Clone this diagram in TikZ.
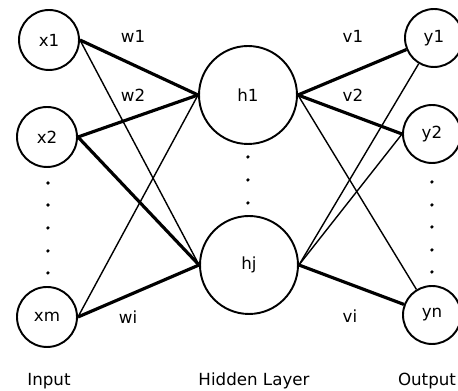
\documentclass[tikz,border=0pt]{standalone}
\usepackage{fontspec}
\setmainfont{DejaVu Sans}
\usepackage{tikz}

\begin{document}
\begin{tikzpicture}[x=0.02cm,y=-0.02cm,
    font=\fontsize{9.5}{11}\selectfont,
    inp/.style={draw,circle,line width=1.1pt,minimum size=1.2cm,inner sep=0pt},
    hid/.style={draw,circle,line width=1.1pt,minimum size=1.96cm,inner sep=0pt},
    outp/.style={draw,circle,line width=1.1pt,minimum size=1.16cm,inner sep=0pt},
    dot/.style={circle,fill,inner sep=0pt,minimum size=2pt},
    thick line/.style={line width=1.8pt},
    thin line/.style={line width=0.8pt}]
        \useasboundingbox (0,0) rectangle (458,391);
        \clip (0,0) rectangle (458,391);

        \node[inp] (X1) at (49,40) {x1};
        \node[inp] (X2) at (47,137) {x2};
        \node[inp] (XM) at (47,317) {xm};
        \node[hid] (H1) at (248,95) {h1};
        \node[hid] (HJ) at (249,265) {hj};
        \node[outp] (Y1) at (434,38) {y1};
        \node[outp] (Y2) at (432,134) {y2};
        \node[outp] (YN) at (432,315) {yn};

        \node (W1) at (133,36) {w1};
        \node (W2) at (133,95) {w2};
        \node (WI) at (128,317) {wi};
        \node (V1) at (353,36) {v1};
        \node (V2) at (353,95) {v2};
        \node (VI) at (350,316) {vi};

        \node (IN) at (49,381) {Input};
        \node (HL) at (254,381) {Hidden Layer};
        \node[inner xsep=0pt] (OUT) at (427,381) {Output};

        \foreach \y in {183,205,228,251,273} \node[dot] at (48,\y) {};
        \foreach \y in {157,180,203} \node[dot] at (248,\y) {};
        \foreach \y in {182,205,227,250,272} \node[dot] at (432,\y) {};

            \draw[thick line] (X1.east) -- (H1.west);
            \draw[thin line] (X1.east) -- (HJ.west);
            \draw[thick line] (X2.east) -- (H1.west);
            \draw[thick line] (X2.east) -- (HJ.west);
            \draw[thin line] (XM.east) -- (H1.west);
            \draw[thick line] (XM.east) -- (HJ.west);

            \draw[thick line] (H1.east) -- (Y1);
            \draw[thick line] (H1.east) -- (Y2.west);
            \draw[thin line] (H1.east) -- (YN);
            \draw[thin line] (HJ.east) -- (Y1);
            \draw[thin line] (HJ.east) -- (Y2.west);
            \draw[thick line] (HJ.east) -- (YN);

    \end{tikzpicture}
\end{document}
